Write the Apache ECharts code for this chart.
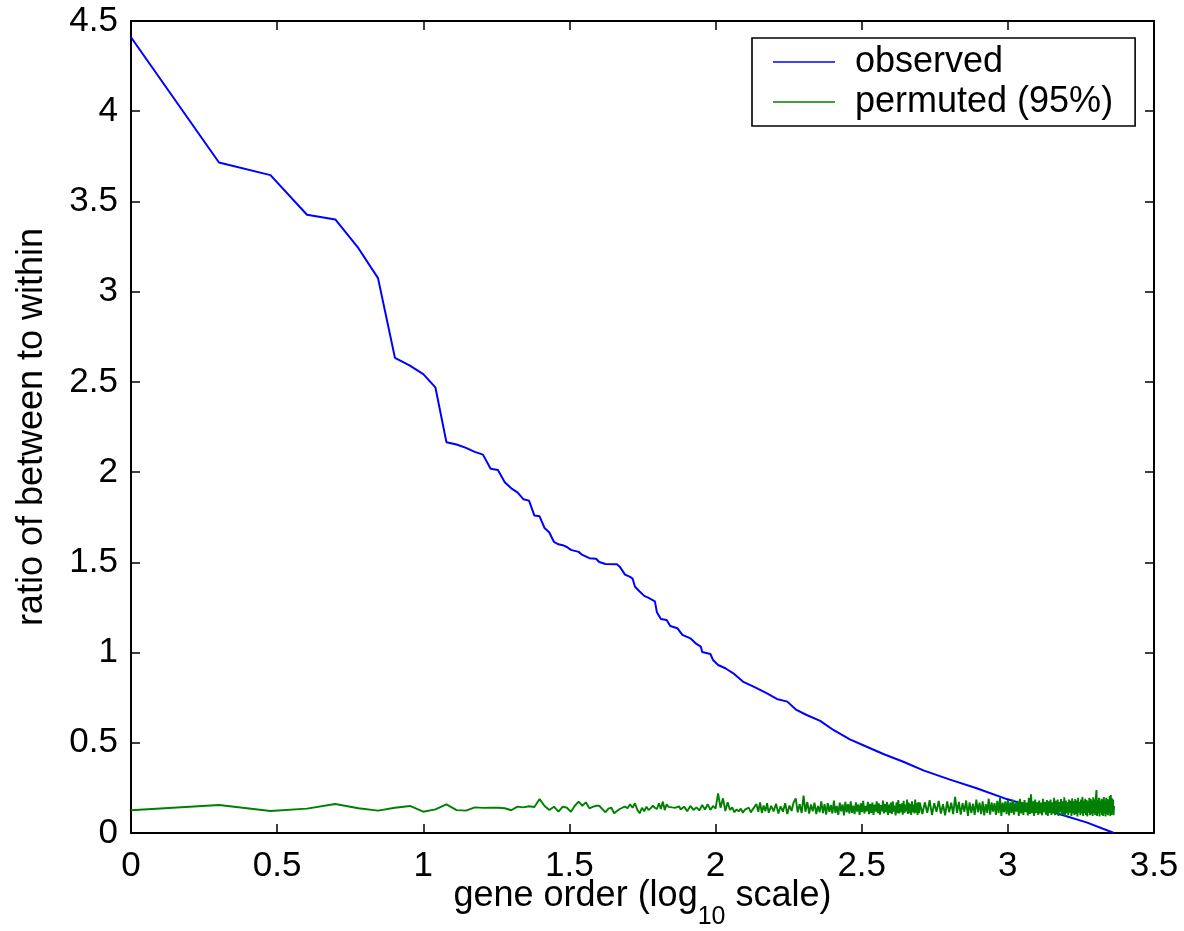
<!DOCTYPE html>
<html>
<head>
<meta charset="utf-8">
<script src="https://cdn.jsdelivr.net/npm/echarts@6/dist/echarts.min.js"></script>
<style>
html,body{margin:0;padding:0;background:#fff;}
#chart{width:1184px;height:931px;}
</style>
</head>
<body>
<div id="chart"></div>
<script>
// ---- data (x = log10 of gene order) ----
const xTickMin = 0, xTickMax = 3.5, xTickStep = 0.5;
const yTickMin = 0, yTickMax = 4.5, yTickStep = 0.5;
const seriesNames = ['observed', 'permuted (95%)'];
const xTitle = ['gene order (log', '10', ' scale)'];
const yTitle = 'ratio of between to within';

// observed: gene rank and ratio
const obsRank = [1,2,3,4,5,6,7,8,9,10,11,12,13,14,15,16,17,18,19,20,21,22,23,24,25,26,27,28,29,30,31,32,
  34,35,37,39,40,42,46,47,49,51,52,53,55,57,59,62,63,65,68,70,74,77,82,86,89,90,96,98,102,108,115,124,136,
  150,162,176,189,205,228,253,288,329,375,439,514,634,782,991,1159,1507,1858,2308];
const obsValue = [4.41,3.716,3.646,3.426,3.40,3.241,3.075,2.633,2.59,2.543,2.47,2.166,2.153,2.134,2.112,2.097,
  2.019,2.012,1.944,1.91,1.888,1.850,1.842,1.759,1.755,1.69,1.665,1.613,1.600,1.595,1.585,1.569,
  1.558,1.541,1.523,1.52,1.502,1.491,1.489,1.476,1.432,1.419,1.41,1.365,1.338,1.314,1.303,1.284,1.223,
  1.186,1.181,1.147,1.135,1.098,1.079,1.048,1.033,1.003,0.992,0.959,0.931,0.913,0.885,0.839,0.808,
  0.774,0.743,0.728,0.682,0.654,0.621,0.571,0.519,0.478,0.438,0.395,0.347,0.296,0.248,0.188,0.155,
  0.104,0.059,0.0];

// permuted (95%): rank segments [first, last, step] and values
const permRankSegments = [[1,75,1],[76,150,2],[152,500,3],[510,2300,10],[2308,2308,1]];
const permValueA = [0.126,0.155,0.122,0.135,0.161,0.137,0.124,0.140,0.150,0.118,
  0.131,0.159,0.127,0.124,0.142,0.139,0.140,0.140,0.137,0.126,
  0.146,0.142,0.148,0.144,0.188,0.150,0.127,0.146,0.118,0.146,
  0.140,0.118,0.151,0.174,0.151,0.170,0.137,0.145,0.151,0.151,
  0.132,0.115,0.135,0.140,0.109,0.122,0.133,0.140,0.146,0.137,
  0.159,0.140,0.165,0.128,0.109,0.140,0.120,0.146,0.127,0.138,
  0.151,0.140,0.133,0.165,0.133,0.174,0.127,0.159,0.145,0.137,
  0.142,0.151,0.140,0.133,0.148];
const permValueB = [0.130,0.146,0.121,0.150,0.128,0.142,0.125,0.155,0.130,0.160,
  0.128,0.150,0.135,0.220,0.140,0.192,0.122,0.170,0.128,0.142,
  0.115,0.131,0.120,0.135,0.112,0.130,0.124,0.140,0.114,0.131,
  0.120,0.160,0.118,0.170,0.110,0.152,0.120,0.165];
const permValueC = [
  0.112,0.150,0.120,0.162,0.108,0.148,0.118,0.165,0.105,0.152,
  0.122,0.170,0.192,0.115,0.160,0.110,0.207,0.118,0.172,0.108,
  0.158,0.120,0.168,0.105,0.150,0.115,0.175,0.110,0.160,0.102,
  0.165,0.118,0.155,0.108,0.180,0.112,0.150,0.100,0.168,0.120,
  0.158,0.098,0.172,0.115,0.160,0.108,0.175,0.112,0.152,0.105,
  0.170,0.118,0.158,0.100,0.165,0.115,0.178,0.108,0.150,0.120,
  0.172,0.105,0.162,0.112,0.168,0.100,0.158,0.118,0.175,0.110,
  0.165,0.102,0.155,0.120,0.180,0.108,0.160,0.115,0.172,0.100,
  0.158,0.112,0.168,0.105,0.175,0.118,0.152,0.098,0.170,0.110,
  0.182,0.108,0.160,0.115,0.165,0.102,0.178,0.112,0.158,0.120,
  0.185,0.105,0.168,0.110,0.160,0.100,0.175,0.115,0.158,0.108,
  0.185,0.112,0.165,0.100,0.172,0.110,0.168];
const permValueD = [
  0.105,0.170,0.112,0.182,0.100,0.165,0.118,0.178,0.108,0.160,
  0.098,0.175,0.115,0.168,0.105,0.200,0.112,0.172,0.102,0.165,
  0.118,0.180,0.095,0.170,0.110,0.162,0.100,0.185,0.115,0.168,
  0.105,0.175,0.098,0.160,0.112,0.190,0.102,0.170,0.118,0.165,
  0.100,0.178,0.110,0.195,0.095,0.168,0.115,0.175,0.105,0.182,
  0.098,0.170,0.112,0.185,0.102,0.165,0.118,0.178,0.095,0.190,
  0.108,0.172,0.100,0.182,0.115,0.168,0.098,0.195,0.105,0.214,
  0.110,0.175,0.095,0.185,0.112,0.170,0.100,0.180,0.108,0.168,
  0.098,0.190,0.115,0.172,0.102,0.182,0.095,0.175,0.110,0.185,
  0.100,0.170,0.112,0.195,0.098,0.178,0.108,0.185,0.095,0.172,
  0.115,0.188,0.100,0.175,0.105,0.198,0.092,0.180,0.110,0.170,
  0.098,0.185,0.112,0.178,0.095,0.192,0.108,0.175,0.100,0.188,
  0.105,0.180,0.092,0.195,0.112,0.172,0.098,0.185,0.108,0.200,
  0.095,0.178,0.110,0.190,0.100,0.182,0.092,0.175,0.112,0.195,
  0.098,0.188,0.105,0.180,0.095,0.198,0.110,0.185,0.100,0.192,
  0.238,0.095,0.182,0.108,0.195,0.092,0.178,0.112,0.190,0.100,
  0.185,0.095,0.200,0.108,0.180,0.092,0.195,0.105,0.188,0.098,
  0.182,0.110,0.205,0.095,0.210,0.100,0.192,0.108,0.185,0.098];
const permValueE = [0.150];

// ---- build ----
const permRank = [];
permRankSegments.forEach(([a,b,s]) => { for (let r = a; r <= b; r += s) permRank.push(r); });
const permValue = [].concat(permValueA, permValueB, permValueC, permValueD, permValueE);

const obsData = obsRank.map((r,i) => [Math.log10(r), obsValue[i]]);
const permData = permRank.map((r,i) => [Math.log10(r), permValue[i]]);

const FONT = 'Liberation Sans, Arial, Helvetica, sans-serif';
const axisLineStyle = {color:'#000', width:2};
function mkX(pos, showLabel, extra) {
  return Object.assign({
    type:'value', position:pos, min:xTickMin, max:xTickMax, interval:xTickStep,
    axisLine:{show:true, onZero:false, lineStyle:axisLineStyle},
    axisTick:{show:true, inside:true, length:9, lineStyle:{color:'#000', width:1.5}},
    axisLabel:{show:showLabel, color:'#000', fontSize:35, fontFamily:FONT, margin:16},
    splitLine:{show:false}
  }, extra || {});
}
function mkY(pos, showLabel, extra) {
  return Object.assign({
    type:'value', position:pos, min:yTickMin, max:yTickMax, interval:yTickStep,
    axisLine:{show:true, onZero:false, lineStyle:axisLineStyle},
    axisTick:{show:true, inside:true, length:9, lineStyle:{color:'#000', width:1.5}},
    axisLabel:{show:showLabel, color:'#000', fontSize:35, fontFamily:FONT, margin:13},
    splitLine:{show:false}
  }, extra || {});
}

const chart = echarts.init(document.getElementById('chart'), null, {renderer:'canvas'});
chart.setOption({
  backgroundColor:'#fff',
  animation:false,
  grid:{left:131, right:30, top:21, bottom:98, containLabel:false, outerBoundsMode:'none'},
  legend:{
    orient:'vertical', left:752, top:38,
    data:seriesNames.map(n => ({name:n, icon:'rect'})),
    itemWidth:62, itemHeight:1.6, itemGap:4,
    backgroundColor:'#fff',
    borderColor:'#000', borderWidth:1.6, borderRadius:0,
    padding:[6,22,6,21],
    textStyle:{color:'#000', fontSize:36, fontFamily:FONT, lineHeight:36, padding:[0,0,0,15]}
  },
  xAxis:[
    mkX('bottom', true, {
      name:'{a|' + xTitle[0] + '}{s|' + xTitle[1] + '}{a|' + xTitle[2] + '}',
      nameLocation:'middle', nameGap:30, nameMoveOverlap:false,
      nameTextStyle:{color:'#000', fontFamily:FONT,
        rich:{a:{fontSize:36, fontFamily:FONT, color:'#000'},
              s:{fontSize:25, fontFamily:FONT, color:'#000', padding:[42,0,0,0]}}}
    }),
    mkX('top', false)
  ],
  yAxis:[
    mkY('left', true, {
      name:yTitle, nameLocation:'middle', nameGap:81, nameRotate:90, nameMoveOverlap:false,
      nameTextStyle:{color:'#000', fontSize:36, fontFamily:FONT}
    }),
    mkY('right', false)
  ],
  series:[
    {name:seriesNames[0], type:'line', data:obsData, xAxisIndex:0, yAxisIndex:0,
     symbol:'none', showSymbol:false, smooth:false, z:2,
     lineStyle:{color:'#0000ff', width:2}, itemStyle:{color:'#0000ff'}},
    {name:seriesNames[1], type:'line', data:permData, xAxisIndex:0, yAxisIndex:0,
     symbol:'none', showSymbol:false, smooth:false, z:3,
     lineStyle:{color:'#008000', width:1.9}, itemStyle:{color:'#008000'}}
  ]
});
</script>
</body>
</html>
